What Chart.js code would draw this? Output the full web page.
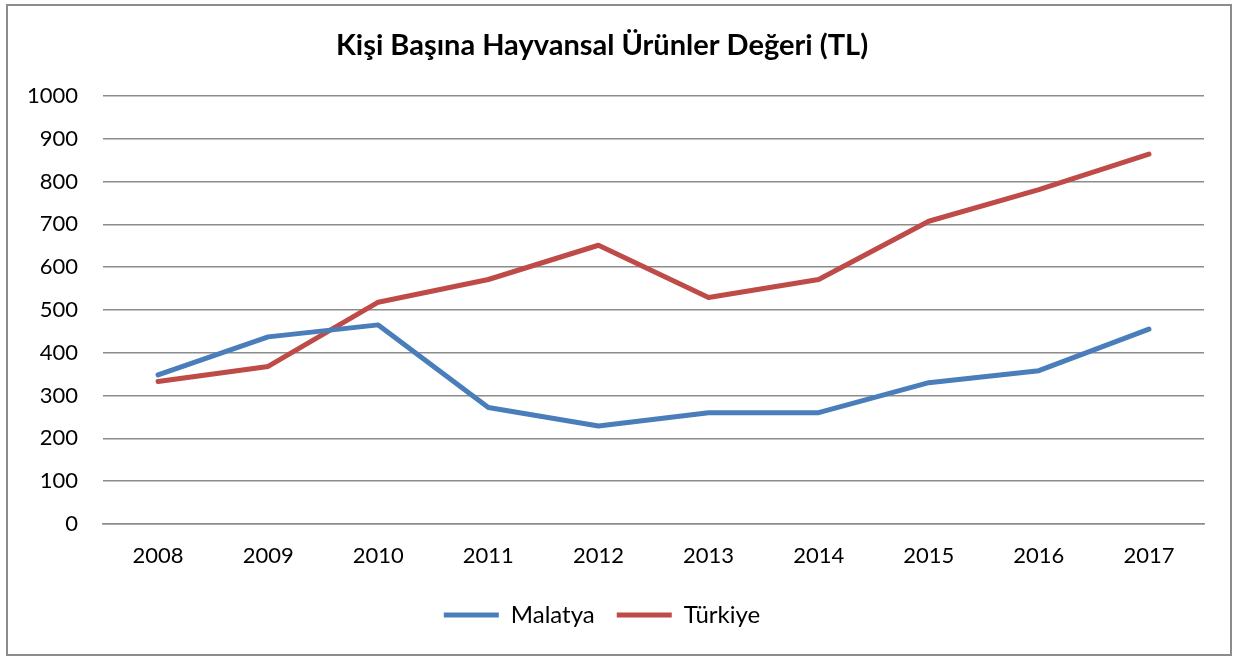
<!DOCTYPE html>
<html>
<head>
<meta charset="utf-8">
<script src="https://cdn.jsdelivr.net/npm/chart.js@4"></script>
<style>
  body { margin: 0; background: #fff; }
  #frame {
    position: absolute; left: 6px; top: 4px;
    width: 1226px; height: 652px;
    border: 2px solid #8c8c8c; box-sizing: border-box;
  }
  #chart { position: absolute; left: 0; top: 0; }
</style>
</head>
<body>
<div id="frame"></div>
<canvas id="chart" width="1233" height="658"></canvas>
<script>
const years    = ['2008', '2009', '2010', '2011', '2012', '2013', '2014', '2015', '2016', '2017'];
const malatya  = [348, 437, 465, 272, 229, 260, 260, 330, 358, 455];
const turkiye  = [333, 368, 518, 571, 651, 529, 571, 707, 781, 864];
const chartTitle = 'Kişi Başına Hayvansal Ürünler Değeri (TL)';

Chart.defaults.font.family = 'Lato, "Open Sans", sans-serif';
Chart.defaults.color = '#000';

const ctx = document.getElementById('chart').getContext('2d');

new Chart(ctx, {
    type: 'line',
    data: {
        labels: years,
        datasets: [{
            label: 'Malatya',
            data: malatya,
            borderColor: '#4a7ebb',
            backgroundColor: '#4a7ebb',
            borderWidth: 5,
            borderCapStyle: 'round',
            borderJoinStyle: 'round',
            pointRadius: 0,
            tension: 0
        }, {
            label: 'Türkiye',
            data: turkiye,
            borderColor: '#be4b48',
            backgroundColor: '#be4b48',
            borderWidth: 5,
            borderCapStyle: 'round',
            borderJoinStyle: 'round',
            pointRadius: 0,
            tension: 0
        }]
    },
    options: {
        responsive: false,
        animation: false,
        layout: { padding: { top: 8, right: 29, bottom: 21, left: 0 } },
        plugins: {
            title: {
                display: true,
                text: chartTitle,
                font: { size: 29, weight: 'bold' },
                padding: { top: 20, bottom: 33 }
            },
            legend: {
                position: 'bottom',
                labels: {
                    usePointStyle: true,
                    pointStyle: 'line',
                    pointStyleWidth: 55,
                    font: { size: 24 },
                    padding: 22
                }
            },
            tooltip: { enabled: false }
        },
        scales: {
            x: {
                offset: true,
                grid: { display: false, drawTicks: false },
                border: { color: '#8c8c8c', width: 1.5 },
                ticks: { font: { size: 22 }, padding: 19 },
                afterFit: s => { s.height = 57; }
            },
            y: {
                min: 0,
                max: 1000,
                grid: { color: '#8c8c8c', lineWidth: 1.5, drawTicks: false },
                border: { display: false },
                ticks: {
                    stepSize: 100,
                    font: { size: 22 },
                    padding: 25,
                    callback: v => String(v)
                },
                afterFit: s => { s.width = 103; }
            }
        }
    }
});
</script>
</body>
</html>
